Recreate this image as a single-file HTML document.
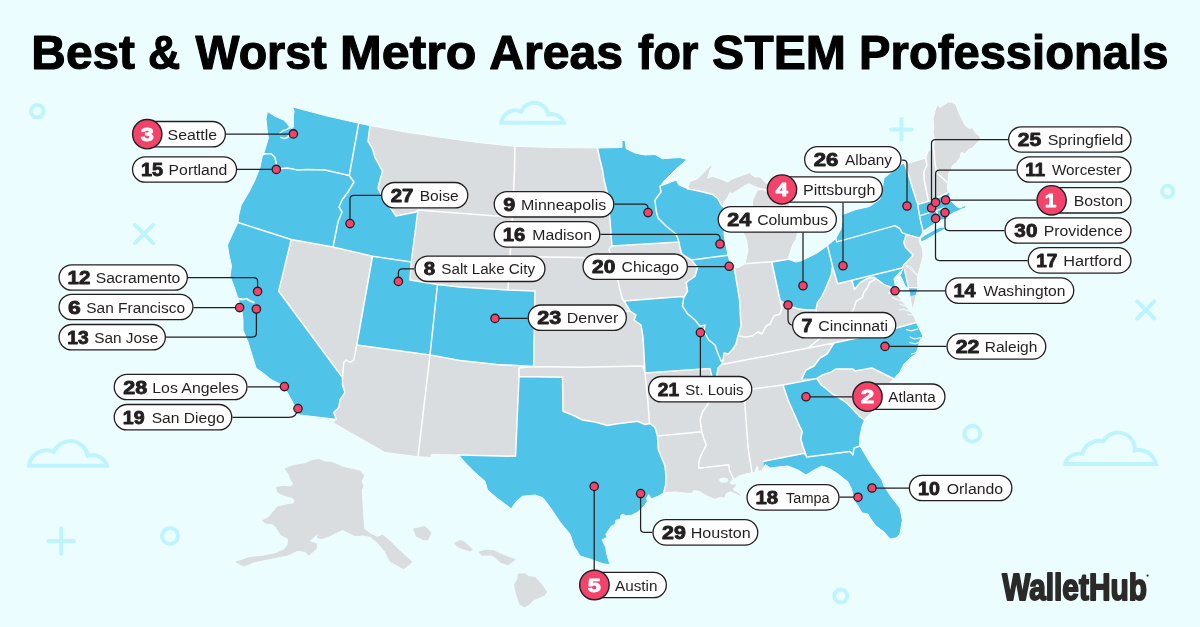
<!DOCTYPE html>
<html lang="en"><head><meta charset="utf-8"><title>Best &amp; Worst Metro Areas for STEM Professionals</title>
<style>
html,body{margin:0;padding:0;background:#ecfdff;}
body{width:1200px;height:627px;overflow:hidden;position:relative;font-family:"Liberation Sans", sans-serif;}
svg{position:absolute;left:0;top:0;display:block}
text{font-family:"Liberation Sans", sans-serif;}
.t{font-weight:700;fill:#000;}
.n{font-weight:700;fill:#231f20;stroke:#231f20;stroke-width:.9px;stroke-linejoin:round;paint-order:stroke;}
.nw{font-weight:700;fill:#fff;stroke:#fff;stroke-width:.9px;stroke-linejoin:round;}
.c{fill:#231f20;}
.pill{fill:#fff;stroke:#231f20;stroke-width:1.3px;}
.top{fill:#f4436a;stroke:#231f20;stroke-width:1.4px;}
.ld{fill:none;stroke:#231f20;stroke-width:1.25px;}
.dot{fill:#f4436a;stroke:#231f20;stroke-width:1.3px;}
.deco{fill:none;stroke:#bef5fd;stroke-width:4px;stroke-linecap:round;}
.bd{fill:none;stroke:#fff;stroke-width:1.5px;stroke-linejoin:round;stroke-linecap:round;}
</style></head><body>
<svg width="1200" height="627" viewBox="0 0 1200 627">
<rect width="1200" height="627" fill="#ecfdff"/>

<g>
<circle class="deco" cx="37.3" cy="111.3" r="6.3" stroke-width="4"/>
<circle class="deco" cx="1167.6" cy="191.3" r="5.6" stroke-width="3.6"/>
<circle class="deco" cx="972.3" cy="433.7" r="8" stroke-width="4.5"/>
<circle class="deco" cx="170" cy="536" r="8" stroke-width="4"/>
<circle class="deco" cx="840.7" cy="596" r="6.5" stroke-width="4"/>
<path class="deco" d="M891.1 129.4H911.6999999999999M901.4 119.10000000000001V139.70000000000002"/>
<path class="deco" d="M48.400000000000006 541H73.8M61.1 528.3V553.7"/>
<path class="deco" d="M134.9 224.9L153.1 243.1M153.1 224.9L134.9 243.1"/>
<path class="deco" d="M1137.2 301.29999999999995L1154.3999999999999 318.5M1154.3999999999999 301.29999999999995L1137.2 318.5"/>
<path class="deco" stroke-width="4" stroke-linejoin="miter" stroke-linecap="butt" d="M501.3 122.7A14.2 14.2 0 0 1 521.2 111.6A14.2 14.2 0 0 1 548.3 114.6A12.5 12.5 0 0 1 563.7 122.7Z"/>
<path class="deco" stroke-width="4.6" stroke-linejoin="miter" stroke-linecap="butt" d="M28.9 465.7A17.8 17.8 0 0 1 53.8 451.9A17.8 17.8 0 0 1 87.7 455.6A15.6 15.6 0 0 1 107.0 465.7Z"/>
<path class="deco" stroke-linejoin="miter" stroke-linecap="butt" d="M1065.5 464A14 11 0 0 1 1082.25 453.8A17.5 17.5 0 0 1 1103.25 441.2A16.8 16.8 0 0 1 1134.75 450.2A18 18 0 0 1 1155.9 464Z"/>
</g>
<g id="map">
<path d="M293 107 L325 115.5 L358.75 123.25 L370 125.5 L405 132 L440 137.2 L478 142.5 L515 146.3 L556 147.6 L597.5 148 L622 147.5 L622 140.5 L625 140.5 L626.25 148.75 L635 153 L645 155 L655 154.5 L662.5 158.75 L672.5 158 L680 157.5 L687 159.5 L675 170 L665 180 L660 186.25 L670 182.5 L676.25 180 L678.75 185 L687.5 188.75 L690 181.25 L697.5 178.75 L702.5 173.75 L706.25 170 L710.6 165.6 L713 165.6 L710 170 L708.75 175 L707.5 178 L712.5 176.25 L720 178.75 L727.5 181.9 L732.5 178.75 L737.5 176.9 L745 174.4 L750 172.5 L751.9 175 L755 176.9 L760 176.9 L763.75 180.6 L766.25 183 L770 186 L772 189 L765 189.5 L757.5 187.5 L752.5 185.6 L748.75 183.75 L743.75 186.25 L740 188.75 L736.25 191.25 L732.5 193.75 L730 192.5 L727.5 197.5 L725 201.25 L723 205 L726 215 L724.5 225 L724 233 L724.75 239.5 L727 250 L727.75 255.25 L730 262 L734.5 268 L739 267.25 L745 263.8 L748 250 L746.5 239.5 L743.5 233.5 L745 222 L750 212 L752.5 205 L752.5 200 L755 195 L757.5 190 L762.5 189.5 L766 191 L775 190 L785 195 L790 204 L787 212 L782 221 L789 217.5 L796.5 221 L799 229 L797.5 233.5 L796 239.5 L793 244 L790 253 L788.5 257.5 L788.5 259.5 L796 262 L802 260.5 L808 257.5 L817 253 L827.5 245.6 L835.75 238.5 L841 229 L842.5 220 L841.75 215.5 L844 214 L856 209.5 L869.5 206.5 L880 199 L882 190 L884 178 L893 171 L902 164 L904.4 163 L909.4 163 L925.6 158 L927.5 151.25 L933.5 148.5 L934.4 138.75 L933 132.5 L933.75 127.5 L933 118.75 L935 111.25 L936.9 104.4 L940 107.5 L943.75 105 L948.1 101.9 L951.5 102.3 L955.6 104.4 L960 115 L965 125 L969.4 128.75 L972.5 127.5 L976.25 133.75 L978.75 135 L981 139 L977.5 142.5 L972.5 147.5 L968 150 L965 153.75 L961.25 152.5 L960 157.5 L956.9 162.5 L952.5 165.6 L951.25 170 L948.75 173 L948.1 181.25 L947.5 188.75 L948.5 191.5 L950 195 L948.75 198.75 L952.5 202.5 L956.25 206.25 L960 208 L966.25 205 L965 208.3 L962.5 208.75 L957.5 211.25 L953.75 212.5 L950 215 L948 215 L947.5 218.75 L939.4 220.6 L932.5 225 L923.1 231.25 L921.25 235 L919.4 238 L920 243.75 L922.5 248.75 L923 256.25 L920 267.5 L918 275 L914 272.5 L909.5 268.5 L906 265.8 L909.4 266.3 L912.5 268.75 L917.5 276.25 L918 287.75 L916.25 294.4 L915 301.25 L913 308 L912.25 310 L911.25 303.75 L910 296.25 L908.5 288 L905.6 286.9 L903.75 283 L901.9 278.75 L900 275.6 L901.25 273 L902.5 269.4 L900 271.9 L896.25 275.6 L894 278.75 L895 284.4 L895.6 290.6 L898.75 296.25 L902.5 301.25 L906.25 306.25 L910 311.25 L913.75 315 L915 318.75 L916.25 322.5 L917 324 L920 330 L923 336 L920 340 L918 348 L916 354 L910 358 L904 364 L900 372 L893.75 378.75 L888 385 L881 393 L875 402 L871.25 413 L866.25 417.5 L864.4 420 L862.5 425 L861.25 430 L860 436.25 L859.4 442.5 L860 446 L866 456 L872 466 L880 477 L882 480 L884 486 L892 498 L900 508 L902.4 520 L900 534 L896 538 L890 539 L884 532 L876 526 L870 518 L868 514 L862 513 L858 506 L855 502 L851 488 L848 482 L838 474 L830 469 L822 466 L814 470 L806 475 L798 470 L788 466 L778 467 L770 468 L765.5 464.5 L763.7 467.5 L761.75 470.5 L758.75 472 L757.25 466 L755 472 L753.5 472.75 L747.5 473.5 L740 475.75 L733.25 479.5 L730 482.5 L732.5 484.4 L735.6 482.5 L736.25 486.25 L733 489.4 L736.25 491.25 L740 493.75 L743 497.5 L740 496.25 L735 493.75 L730 491.9 L726.25 493.75 L725 498 L720 497.5 L715 499.4 L710 497.5 L705 495 L700 491.9 L693.75 490.6 L691.25 493.75 L683.75 493 L675 491.9 L663.75 493 L657.5 496.5 L651.7 498.7 L649.6 496.2 L648.8 494.6 L647.6 496.5 L646.7 498.2 L647.4 501.5 L643.8 506.5 L637.4 512.3 L631.6 515.2 L625.9 515.9 L623 514.2 L620.9 515.2 L620.6 517.8 L619.4 519.5 L615.8 520.2 L615.1 524.5 L611.5 525.9 L607.9 531 L605.8 534.5 L607.2 537.4 L602.2 539.6 L603.6 543.2 L605.8 547.5 L606.5 553.2 L608.7 560.4 L610.1 564.5 L604 564 L598 562 L590 559 L580 556 L574 546 L570 534 L560 522 L552 510 L547 503 L542.5 497.5 L535 495 L522.5 496.25 L516.25 501.25 L511.25 508.75 L506.25 505 L496.25 497.5 L487.5 490 L485 481.25 L475 472.5 L465 462.5 L458.75 455 L431.25 454.5 L431.25 457.5 L418 456.75 L385 452.5 L332.5 422.5 L336.25 419.25 L300 415 L298 413 L292 401 L287 392 L283 385.5 L271 379.5 L263 373 L256 368 L252 355 L248 342 L243 330 L243 320 L242 312 L238 298.5 L234.5 288 L230 276 L231.5 266 L229 255 L227.5 245 L232 235 L238 222.5 L238.75 215 L241.25 205 L248.75 192.5 L255 180 L260 167.5 L262.5 155 L263.6 153.6 L265.5 147.8 L268.4 138.3 L267 128.7 L266 119 L267.4 111.5 L274.1 115.8 L283.7 120.1 L287.5 123.9 L289.6 127.2 L291.6 128.6 L293.6 127 L293.2 118 L294 111 L292.8 107.7 L293 107Z" fill="#d9dde0"/>
<path d="M285 468.75 L293.75 465.5 L305 463.75 L312.5 460.5 L318.75 459.5 L325 462 L332.5 462.5 L342.5 467 L352.5 469.5 L360 471.25 L363.75 475.5 L361.25 481.25 L363 486.25 L361.25 490 L362.5 512.5 L363.75 528.75 L370 533.75 L377.5 537.5 L382.5 535 L390 541.25 L400 551.25 L412 562 L403.75 568.75 L390 561.25 L385 551.25 L377.5 542.5 L370 536.25 L362.5 535 L355 535.5 L342.5 529.5 L330 535.5 L321.25 538.75 L317.5 537.5 L318.75 532.5 L308.75 541.25 L316.25 543.75 L316.25 548.75 L308.75 555 L305 551.25 L297.5 550.5 L287.5 555 L275 557.5 L260 560.5 L253.75 562 L243.75 566.25 L236.25 562 L242.5 560 L250 557.5 L262.5 556.25 L275 553.75 L283.75 550 L288 545 L288.75 538.75 L281.25 535 L276.25 527.5 L272.5 523.75 L265 523 L262.5 520.5 L268.75 517.5 L273.75 511.25 L277.5 507 L286.25 505 L293.75 503.75 L295 500.5 L292.5 497.5 L283.75 495 L278 492.5 L276.25 487.5 L283.75 486.25 L290.5 487 L293.75 483.75 L290.5 478.75 L288.75 473.75Z" fill="#d9dde0" stroke="#d9dde0" stroke-width="1" stroke-linejoin="round"/>
<path d="M413.8 529.3 L424.75 526.75 L430.75 532.75 L427.75 539.5 L424 539.5 L416.5 535.75Z" fill="#d9dde0" stroke="#d9dde0" stroke-width="1.4" stroke-linejoin="round"/>
<path d="M455.2 543.25 L460 541 L464.5 542.5 L471.7 549.25 L470.5 550.75 L463 548.5 L457.75 546.25Z" fill="#d9dde0" stroke="#d9dde0" stroke-width="1.4" stroke-linejoin="round"/>
<path d="M479.5 552.25 L485.5 550.45 L493 550.75 L499 553.75 L514.75 559.75 L508 564.5 L500.5 562 L496 557.5 L491.5 554.8 L481.75 554.8Z" fill="#d9dde0" stroke="#d9dde0" stroke-width="1.4" stroke-linejoin="round"/>
<path d="M518.5 574.3 L525.25 574.3 L528.25 576.7 L535 577.75 L541 584.5 L546.25 592 L544 595 L533.5 599.5 L529 604 L524.5 606.7 L520 604 L517 595 L514.75 584.5 L517.75 580Z" fill="#d9dde0" stroke="#d9dde0" stroke-width="1.4" stroke-linejoin="round"/>
<path d="M262.5 155 L263.6 153.6 L265.5 147.8 L268.4 138.3 L267 128.7 L266 119 L267.4 111.5 L274.1 115.8 L283.7 120.1 L287.5 123.9 L289.6 127.2 L291.6 128.6 L293.6 127 L293.2 118 L294 111 L292.8 107.7 L293 107 L325 115.5 L358.75 123.25 L349.25 175.5 L325 170 L307.5 169.5 L297.5 170 L287.5 168 L278.75 168.75 L276.25 163.75 L275 157.5 L271.25 153.75 L265 153.75 L262.5 155ZM238 222.5 L238.75 215 L241.25 205 L248.75 192.5 L255 180 L260 167.5 L262.5 155 L265 153.75 L271.25 153.75 L275 157.5 L276.25 163.75 L278.75 168.75 L287.5 168 L297.5 170 L307.5 169.5 L325 170 L349.25 175.5 L354 182 L348 192 L342 200 L339 207 L342 212 L338 222 L333 247 L291.25 239.5ZM238 222.5 L291.25 239.5 L278.75 291.25 L342.5 377.5 L342.5 385 L345 392.5 L340 400 L338.75 407.5 L333.75 412.5 L336.25 419.25 L300 415 L298 413 L292 401 L287 392 L283 385.5 L271 379.5 L263 373 L256 368 L252 355 L248 342 L243 330 L243 320 L242 312 L238 298.5 L234.5 288 L230 276 L231.5 266 L229 255 L227.5 245 L232 235 L238 222.5ZM358.75 123.25 L370 125.5 L368 141.25 L372.5 148.75 L375 157.5 L382.5 171.25 L380 180 L378 188 L382 196 L388 204 L392 210 L396 216 L406 214 L416 212 L418 210 L411.25 262 L372.5 256.25 L333 247 L338 222 L342 212 L339 207 L342 200 L348 192 L354 182 L349.25 175.5ZM372.5 256.25 L411.25 262 L410 280 L437.5 284.5 L430 355 L356.75 345ZM437.5 284.5 L460 287 L508 290 L535 291 L533.6 366.5 L497 364.5 L460 360.5 L430 355ZM519 376.5 L562.5 377.2 L563 411.25 L572.5 415 L582.5 420 L595 422 L607.5 425.5 L617.5 423.75 L627.5 422.5 L637.5 421.25 L645 424.5 L650 423.5 L655 427.5 L657.5 436 L658.25 449.5 L662 458.5 L665 466 L666 476 L665.6 485 L663.75 493 L657.5 496.5 L651.7 498.7 L649.6 496.2 L648.8 494.6 L647.6 496.5 L646.7 498.2 L647.4 501.5 L643.8 506.5 L637.4 512.3 L631.6 515.2 L625.9 515.9 L623 514.2 L620.9 515.2 L620.6 517.8 L619.4 519.5 L615.8 520.2 L615.1 524.5 L611.5 525.9 L607.9 531 L605.8 534.5 L607.2 537.4 L602.2 539.6 L603.6 543.2 L605.8 547.5 L606.5 553.2 L608.7 560.4 L610.1 564.5 L604 564 L598 562 L590 559 L580 556 L574 546 L570 534 L560 522 L552 510 L547 503 L542.5 497.5 L535 495 L522.5 496.25 L516.25 501.25 L511.25 508.75 L506.25 505 L496.25 497.5 L487.5 490 L485 481.25 L475 472.5 L465 462.5 L458.75 455 L515.5 456.25ZM597.5 148 L622 147.5 L622 140.5 L625 140.5 L626.25 148.75 L635 153 L645 155 L655 154.5 L662.5 158.75 L672.5 158 L680 157.5 L687 159.5 L675 170 L665 180 L660 186.25 L661 192 L655 200 L656 210 L658 218 L666 226 L676 234 L679 242 L679 242 L612 246 L611.5 240 L610 220 L607 192 L604 180 L602.5 170 L600 160 L597.5 148ZM660 186.25 L670 182.5 L676.25 180 L678.75 185 L687.5 188.75 L700 191.25 L712.5 194.5 L718 198.75 L720.6 203.75 L722.5 206.25 L726 215 L724.5 225 L724 233 L724.75 239.5 L727 250 L727.75 255.25 L691.25 260 L688 258 L682 254 L680 248 L679 242 L676 234 L666 226 L658 218 L656 210 L655 200 L661 192 L660 186.25ZM691.25 260 L727.75 255.25 L730 262 L734.5 268 L734.5 269.5 L739.6 300 L741 326 L738 336 L738 336 L736 344 L733 349 L728 354 L724 353 L723 360 L721.25 361.25 L717.5 352.5 L715 345 L708.75 340 L703.75 331.25 L705 325 L700 326.25 L695 320 L687.5 313.75 L682.5 306.25 L683.75 297.5 L687.5 291.25 L686.25 282.5 L695 276.25 L697.5 267.5 L691.25 260ZM624 301 L682 296.6 L683.75 297.5 L683.75 297.5 L682.5 306.25 L687.5 313.75 L695 320 L700 326.25 L705 325 L703.75 331.25 L708.75 340 L715 345 L717.5 352.5 L721.25 361.25 L723 360 L722 364 L718 368 L718 368 L717 377 L712 377 L710 368.6 L645 373 L643 337 L641 325 L634 320 L636 315 L630 311 L624 301ZM772 263 L788.5 259.5 L796 262 L802 260.5 L808 257.5 L817 253 L827.5 245.6 L832.5 266 L831.25 275 L825 290 L821.25 297.5 L817.5 302.5 L816 310 L807.5 310 L797.5 308.75 L786.25 305 L780 300ZM827.5 245.6 L835.75 238.5 L836.9 241.9 L895 225.6 L900 228.75 L901.9 232.5 L906.25 234.4 L905 238.75 L903.75 242.5 L905.6 247.5 L913.1 255 L907.5 261.25 L903.75 265 L901.9 268.1 L837.5 283.75 L832.5 266ZM835.75 238.5 L841 229 L842.5 220 L841.75 215.5 L844 214 L856 209.5 L869.5 206.5 L880 199 L882 190 L884 178 L893 171 L902 164 L904.4 163 L909.4 177.5 L913 190 L917.5 203.75 L919.4 215 L921.25 223.75 L923.1 231.25 L921.25 235 L919.4 238 L906.25 234.4 L901.9 232.5 L900 228.75 L895 225.6 L836.9 241.9ZM921 238.5 L925 235.5 L931 232.2 L938 228.6 L943 227.6 L945 228.6 L939 231.8 L931 236.2 L925 239.8 L921.5 241.2ZM918.1 204.4 L932.5 200 L946.25 193.75 L948.5 191.5 L950 195 L948.75 198.75 L952.5 202.5 L956.25 206.25 L960 208 L966.25 205 L965 208.3 L962.5 208.75 L957.5 211.25 L953.75 212.5 L950 215 L948 215 L943.75 208 L936.25 210.6 L920 215.6ZM920 215.6 L936.25 210.6 L939.4 220.6 L932.5 225 L923.1 231.25 L921.25 223.75ZM936.25 210.6 L943.75 208 L948 215 L947.5 218.75 L939.4 220.6ZM851.9 280.3 L901.9 268.1 L902.5 269.4 L900 271.9 L896.25 275.6 L894 278.75 L895 284.4 L895.6 290.6 L893 288 L890 286.9 L883.75 284.4 L880 281.5 L876.25 278.75 L873.75 277.25 L870 277.5 L865 279.75 L860 282.75 L854.4 289.4 L851.9 280.3ZM901.25 273.75 L903 268.75 L904.6 269.6 L908.5 287.4 L905.6 286.9 L903.75 283 L901.9 278.75 L900 275.6ZM908.6 288 L918 287.75 L916.25 294.4 L912.3 295.8 L910 296.25ZM801.9 378.5 L806 370 L814 366 L820 358 L827 354 L832 346 L834 343 L875 334 L916.25 322.5 L917 324 L920 330 L923 336 L920 340 L918 348 L916 354 L910 358 L904 364 L900 372 L893.75 378.75 L872 368 L855 371 L853 369 L836 369 L831.25 371.9 L822.5 375 L816.9 378.5 L801.9 378.5ZM783 385 L816.9 378.5 L821.25 385 L826.25 388.75 L831.25 393 L837.5 396.9 L842.5 400 L847.5 403.75 L852.5 408.75 L856.25 413 L860 416.9 L864.4 420 L862.5 425 L861.25 430 L860 436.25 L859.4 442.5 L860 446 L854 448 L853 455 L850 451.6 L806.75 457 L803 446.5 L800.75 439 L802.25 431.5 L800 427 L794 413.5 L788 400 L783 385ZM763.7 461.2 L804.5 453.25 L806.75 457 L850 451.6 L853 455 L854 448 L860 446 L866 456 L872 466 L880 477 L882 480 L884 486 L892 498 L900 508 L902.4 520 L900 534 L896 538 L890 539 L884 532 L876 526 L870 518 L868 514 L862 513 L858 506 L855 502 L851 488 L848 482 L838 474 L830 469 L822 466 L814 470 L806 475 L798 470 L788 466 L778 467 L770 468 L765.5 464.5 L763.7 467.5 L763.7 461.2Z" fill="#50c3e8"/>
<path class="bd" d="M358.75 123.25 L349.25 175.5M262.5 155 L265 153.75 L271.25 153.75 L275 157.5 L276.25 163.75 L278.75 168.75 L287.5 168 L297.5 170 L307.5 169.5 L325 170 L349.25 175.5M349.25 175.5 L354 182 L348 192 L342 200 L339 207 L342 212 L338 222 L333 247M238 222.5 L291.25 239.5 L333 247 L372.5 256.25 L411.25 262M370 125.5 L368 141.25 L372.5 148.75 L375 157.5 L382.5 171.25 L380 180 L378 188 L382 196 L388 204 L392 210 L396 216 L406 214 L416 212 L418 210M418 210 L411.25 262M291.25 239.5 L278.75 291.25 L342.5 377.5M342.5 377.5 L342.5 385 L345 392.5 L340 400 L338.75 407.5 L333.75 412.5 L336.25 419.25M356.75 345 L353.75 360 L350 362.5 L346.25 360 L343.75 362.5 L342.5 377.5M372.5 256.25 L356.75 345M356.75 345 L430 355M411.25 262 L410 280 L437.5 284.5M437.5 284.5 L430 355M437.5 284.5 L460 287 L508 290 L535 291M535 291 L533.6 366.5M430 355 L460 360.5 L497 364.5 L533.6 366.5M430 355 L418 456.75M418 210 L496 216 L512.5 217.5M515 146.3 L514.5 170 L512.5 217.5 L510 256.5 L508 290M510 256.5 L582 257.5 L592 260 L600 262.5 L609 262M534.6 310 L580 313.5 L630 311M519 368 L533.6 366.5 L580 367.3 L643 366M519 368 L519 376.5 L515.5 456.25M458.75 455 L515.5 456.25M519 376.5 L562.5 377.2 L563 411.25M563 411.25 L572.5 415 L582.5 420 L595 422 L607.5 425.5 L617.5 423.75 L627.5 422.5 L637.5 421.25 L645 424.5 L650 423.5 L655 427.5M655 427.5 L657.5 436 L658.25 449.5 L662 458.5 L665 466 L666 476 L665.6 485 L663.75 493M643 366 L645 373 L648 403 L649.5 423.5M657.5 436 L701.75 431.8M645 373 L710 368.6M710 368.6 L712 377 L717 377 L718 368M718 368 L716 380 L712 393 L707.75 404.5 L702.5 412 L700.25 419.5 L701 427 L701.75 431.8 L704 439 L706.25 445 L703.25 451 L700.25 457 L698.75 463 L698.75 468.25M698.75 468.25 L728.75 464.8 L729.5 470.5 L732.5 476.5 L733.25 479.5M744.3 390 L744.8 403 L748.25 449.5 L752 472.5M712 394 L752 389 L783 385 L816.9 378.5M783 385 L788 400 L794 413.5 L800 427 L802.25 431.5 L800.75 439 L803 446.5 L806.75 457M763.7 461.2 L804.5 453.25 L806.75 457M806.75 457 L850 451.6 L853 455 L854 448 L860 446M816.9 378.5 L821.25 385 L826.25 388.75 L831.25 393 L837.5 396.9 L842.5 400 L847.5 403.75 L852.5 408.75 L856.25 413 L860 416.9 L864.4 420M816.9 378.5 L822.5 375 L831.25 371.9 L836 369 L853 369 L855 371 L872 368 L893.75 378.75M801.9 378.5 L806 370 L814 366 L820 358 L827 354 L832 346 L834 343M834 343 L875 334 L916.25 322.5M718 368 L722 364.5 L740 361 L775 354.5 L808 348 L834 343M723 360 L724 353 L728 354 L733 349 L736 344 L738 336M738 336 L746 337 L752 336 L758 332 L762 334 L766 326 L770 324 L774 316 L780 314 L782 308 L780 300M780 300 L786.25 305 L797.5 308.75 L807.5 310 L816 310 L817.5 302.5 L821.25 297.5 L825 290 L831.25 275 L832.5 266M738 336 L741 326 L739.6 300 L734.5 269.5 L734.5 268M772 263 L780 300M745 263.8 L772 261.7 L788.5 259.3M827.5 245.6 L832.5 266 L837.5 283.75M837.5 283.75 L851.9 280.3 L901.9 268.1M835.75 238.5 L836.9 241.9 L895 225.6M895 225.6 L900 228.75 L901.9 232.5 L906.25 234.4 L905 238.75 L903.75 242.5 L905.6 247.5 L913.1 255 L907.5 261.25 L903.75 265 L901.9 268.1M906.25 234.4 L919.4 238M904.4 163 L909.4 177.5 L913 190 L917.5 203.75 L919.4 215 L921.25 223.75 L923.1 231.25M918.1 204.4 L932.5 200 L946.25 193.75 L948.5 191.5M920 215.6 L936.25 210.6 L943.75 208 L948 215M936.25 210.6 L939.4 220.6M927.5 151.25 L925.6 157.5 L926.9 165 L923.75 172.5 L924.4 181.25 L926.25 190 L928 198.75 L928.75 201M933.75 149 L935 163.75 L936.9 173 L948 183M876.25 278.75 L869.4 282.5 L867.5 287.5 L863.75 292.5 L862.5 297.5 L856.25 301.25 L853.75 308.75 L852.5 311.25 L846 318 L838 326 L828 333 L818 340 L808 348M816 310 L818 318 L823 325 L820 334 L818 340M851.9 280.3 L854.4 289.4 L860 282.75 L865 279.75 L870 277.5 L873.75 277.25 L876.25 278.75 L880 281.5 L883.75 284.4 L890 286.9 L893 288 L895.6 290.6M904.4 269.4 L908.5 287.6 L918 287.75M660 186.25 L661 192 L655 200 L656 210 L658 218 L666 226 L676 234 L679 242 L680 248 L682 254 L688 258 L691.25 260M691.25 260 L697.5 267.5 L695 276.25 L686.25 282.5 L687.5 291.25 L683.75 297.5 L682.5 306.25 L687.5 313.75 L695 320 L700 326.25 L705 325 L703.75 331.25 L708.75 340 L715 345 L717.5 352.5 L721.25 361.25 L723 360 L722 364 L718 368M612 246 L679 242M597.5 148 L600 160 L602.5 170 L604 180 L607 192 L610 220 L611.5 240 L612 246M612 246 L609 249 L610 253 L613 263 L618 281 L622 298 L624 301M624 301 L682 296.6 L683.75 297.5M624 301 L630 311 L636 315 L634 320 L641 325 L643 337 L645 373M691.25 260 L727.75 255.25M687.5 188.75 L700 191.25 L712.5 194.5 L718 198.75 L720.6 203.75 L722.5 206.25"/>
<path d="M293 107 L325 115.5 L358.75 123.25 L370 125.5 L405 132 L440 137.2 L478 142.5 L515 146.3 L556 147.6 L597.5 148 L622 147.5 L622 140.5 L625 140.5 L626.25 148.75 L635 153 L645 155 L655 154.5 L662.5 158.75 L672.5 158 L680 157.5 L687 159.5 L675 170 L665 180 L660 186.25 L670 182.5 L676.25 180 L678.75 185 L687.5 188.75 L690 181.25 L697.5 178.75 L702.5 173.75 L706.25 170 L710.6 165.6 L713 165.6 L710 170 L708.75 175 L707.5 178 L712.5 176.25 L720 178.75 L727.5 181.9 L732.5 178.75 L737.5 176.9 L745 174.4 L750 172.5 L751.9 175 L755 176.9 L760 176.9 L763.75 180.6 L766.25 183 L770 186 L772 189 L765 189.5 L757.5 187.5 L752.5 185.6 L748.75 183.75 L743.75 186.25 L740 188.75 L736.25 191.25 L732.5 193.75 L730 192.5 L727.5 197.5 L725 201.25 L723 205 L726 215 L724.5 225 L724 233 L724.75 239.5 L727 250 L727.75 255.25 L730 262 L734.5 268 L739 267.25 L745 263.8 L748 250 L746.5 239.5 L743.5 233.5 L745 222 L750 212 L752.5 205 L752.5 200 L755 195 L757.5 190 L762.5 189.5 L766 191 L775 190 L785 195 L790 204 L787 212 L782 221 L789 217.5 L796.5 221 L799 229 L797.5 233.5 L796 239.5 L793 244 L790 253 L788.5 257.5 L788.5 259.5 L796 262 L802 260.5 L808 257.5 L817 253 L827.5 245.6 L835.75 238.5 L841 229 L842.5 220 L841.75 215.5 L844 214 L856 209.5 L869.5 206.5 L880 199 L882 190 L884 178 L893 171 L902 164 L904.4 163 L909.4 163 L925.6 158 L927.5 151.25 L933.5 148.5 L934.4 138.75 L933 132.5 L933.75 127.5 L933 118.75 L935 111.25 L936.9 104.4 L940 107.5 L943.75 105 L948.1 101.9 L951.5 102.3 L955.6 104.4 L960 115 L965 125 L969.4 128.75 L972.5 127.5 L976.25 133.75 L978.75 135 L981 139 L977.5 142.5 L972.5 147.5 L968 150 L965 153.75 L961.25 152.5 L960 157.5 L956.9 162.5 L952.5 165.6 L951.25 170 L948.75 173 L948.1 181.25 L947.5 188.75 L948.5 191.5 L950 195 L948.75 198.75 L952.5 202.5 L956.25 206.25 L960 208 L966.25 205 L965 208.3 L962.5 208.75 L957.5 211.25 L953.75 212.5 L950 215 L948 215 L947.5 218.75 L939.4 220.6 L932.5 225 L923.1 231.25 L921.25 235 L919.4 238 L920 243.75 L922.5 248.75 L923 256.25 L920 267.5 L918 275 L914 272.5 L909.5 268.5 L906 265.8 L909.4 266.3 L912.5 268.75 L917.5 276.25 L918 287.75 L916.25 294.4 L915 301.25 L913 308 L912.25 310 L911.25 303.75 L910 296.25 L908.5 288 L905.6 286.9 L903.75 283 L901.9 278.75 L900 275.6 L901.25 273 L902.5 269.4 L900 271.9 L896.25 275.6 L894 278.75 L895 284.4 L895.6 290.6 L898.75 296.25 L902.5 301.25 L906.25 306.25 L910 311.25 L913.75 315 L915 318.75 L916.25 322.5 L917 324 L920 330 L923 336 L920 340 L918 348 L916 354 L910 358 L904 364 L900 372 L893.75 378.75 L888 385 L881 393 L875 402 L871.25 413 L866.25 417.5 L864.4 420 L862.5 425 L861.25 430 L860 436.25 L859.4 442.5 L860 446 L866 456 L872 466 L880 477 L882 480 L884 486 L892 498 L900 508 L902.4 520 L900 534 L896 538 L890 539 L884 532 L876 526 L870 518 L868 514 L862 513 L858 506 L855 502 L851 488 L848 482 L838 474 L830 469 L822 466 L814 470 L806 475 L798 470 L788 466 L778 467 L770 468 L765.5 464.5 L763.7 467.5 L761.75 470.5 L758.75 472 L757.25 466 L755 472 L753.5 472.75 L747.5 473.5 L740 475.75 L733.25 479.5 L730 482.5 L732.5 484.4 L735.6 482.5 L736.25 486.25 L733 489.4 L736.25 491.25 L740 493.75 L743 497.5 L740 496.25 L735 493.75 L730 491.9 L726.25 493.75 L725 498 L720 497.5 L715 499.4 L710 497.5 L705 495 L700 491.9 L693.75 490.6 L691.25 493.75 L683.75 493 L675 491.9 L663.75 493 L657.5 496.5 L651.7 498.7 L649.6 496.2 L648.8 494.6 L647.6 496.5 L646.7 498.2 L647.4 501.5 L643.8 506.5 L637.4 512.3 L631.6 515.2 L625.9 515.9 L623 514.2 L620.9 515.2 L620.6 517.8 L619.4 519.5 L615.8 520.2 L615.1 524.5 L611.5 525.9 L607.9 531 L605.8 534.5 L607.2 537.4 L602.2 539.6 L603.6 543.2 L605.8 547.5 L606.5 553.2 L608.7 560.4 L610.1 564.5 L604 564 L598 562 L590 559 L580 556 L574 546 L570 534 L560 522 L552 510 L547 503 L542.5 497.5 L535 495 L522.5 496.25 L516.25 501.25 L511.25 508.75 L506.25 505 L496.25 497.5 L487.5 490 L485 481.25 L475 472.5 L465 462.5 L458.75 455 L431.25 454.5 L431.25 457.5 L418 456.75 L385 452.5 L332.5 422.5 L336.25 419.25 L300 415 L298 413 L292 401 L287 392 L283 385.5 L271 379.5 L263 373 L256 368 L252 355 L248 342 L243 330 L243 320 L242 312 L238 298.5 L234.5 288 L230 276 L231.5 266 L229 255 L227.5 245 L232 235 L238 222.5 L238.75 215 L241.25 205 L248.75 192.5 L255 180 L260 167.5 L262.5 155 L263.6 153.6 L265.5 147.8 L268.4 138.3 L267 128.7 L266 119 L267.4 111.5 L274.1 115.8 L283.7 120.1 L287.5 123.9 L289.6 127.2 L291.6 128.6 L293.6 127 L293.2 118 L294 111 L292.8 107.7 L293 107Z" fill="none" stroke="#f6feff" stroke-width="1" stroke-linejoin="round"/>
<path d="M290 127.5L286.5 129.6L283.5 130.4L280 133.2M280.6 137.4L284.5 138.6L288 137.2L288.6 134.5" fill="none" stroke="#ecfdff" stroke-width="1.5" stroke-linecap="round" stroke-linejoin="round"/>
<path d="M238 298.6L242.5 299.6L246.5 298.6L250 300.8L253.6 302.4" fill="none" stroke="#ecfdff" stroke-width="2" stroke-linecap="round" stroke-linejoin="round"/>
<path d="M917.6 329.2L911 330.8L906.5 329.6M920.6 337.6L914.5 339L910 337M921 341.5L915.5 343.8L909.5 342.5M917 352.5L911.5 354M895.6 290.6L890.5 293.6L888.6 292.6M902.5 301.25L895.5 299L892.6 297.6M906.25 306.25L899.5 304M910 311.25L903 309L899 310.2M913.75 315L908 314.6" fill="none" stroke="#ecfdff" stroke-width="1.2" stroke-linecap="round" stroke-linejoin="round"/>
<ellipse cx="723.8" cy="480" rx="4.5" ry="2.6" fill="#ecfdff"/>
</g>
<g id="leaders">
<path class="ld" d="M226 134H293.4M237 169.4H276.3M381 195.4H354Q350 195.4 350 199.4V223.6M188 277.5H253.6Q257.6 277.5 257.6 281.5V291.4M193.6 307.5H239.6M166 337H252.4Q256.4 337 256.4 333V309M247.6 386.8H284.4M232.4 417.4H289Q296.5 417.4 298 408.6M414.4 268.8H402.4Q398.4 268.8 398.4 272.8V281.4M614.4 204.2H644Q648 204.2 648 208.2V212.6M600.4 234.4H716Q720 234.4 720 238.4V244M688 266.6H729M527.6 318.4H495M700.4 332.6V376M788 305V319Q788 325 793 325.2M901.6 160H903Q907 160 907 164V206M843 202.4V265.75M803 232.4V285.75M1008 139.6H935.5Q931.5 139.6 931.5 143.6V208M1016.4 170H939.6Q935.6 170 935.6 174V202.4M1036 200.2H945.6M1004.4 230.6H949Q945 230.6 945 226.6V212.6M1027.6 260.6H939.5Q935.5 260.6 935.5 256.6V218.4M945 290.8H895M946.4 346.4H885M852 396.8H806M909 488H872M839.6 497.2H858M640.6 493.6V528.4Q640.6 532.4 644.6 532.4H652.4M594.2 486.4V570"/>
</g>
<g id="labels">
<rect class="pill" x="132.55" y="156.8" width="104" height="25.4" rx="12.7"/>
<text class="n" x="141" y="176.1" font-size="19" textLength="22.1" lengthAdjust="spacingAndGlyphs">15</text>
<text class="c" x="168.6" y="175.1" font-size="15.2" textLength="58.81" lengthAdjust="spacingAndGlyphs">Portland</text>
<rect class="pill" x="381.65" y="182.5" width="86.1" height="25.4" rx="12.7"/>
<text class="n" x="390.74" y="201.8" font-size="19" textLength="22.7" lengthAdjust="spacingAndGlyphs">27</text>
<text class="c" x="419.72" y="200.8" font-size="15.2" textLength="38.97" lengthAdjust="spacingAndGlyphs">Boise</text>
<rect class="pill" x="59.05" y="264.8" width="128.3" height="25.4" rx="12.7"/>
<text class="n" x="67.56" y="284.1" font-size="19" textLength="22.81" lengthAdjust="spacingAndGlyphs">12</text>
<text class="c" x="95.69" y="283.1" font-size="15.2" textLength="84.57" lengthAdjust="spacingAndGlyphs">Sacramento</text>
<rect class="pill" x="59.05" y="294.3" width="133.9" height="25.4" rx="12.7"/>
<text class="n" x="68.01" y="313.6" font-size="19" textLength="12.77" lengthAdjust="spacingAndGlyphs">6</text>
<text class="c" x="86.3" y="312.6" font-size="15.2" textLength="98.75" lengthAdjust="spacingAndGlyphs">San Francisco</text>
<rect class="pill" x="59.05" y="324.5" width="106.3" height="25.4" rx="12.7"/>
<text class="n" x="67.24" y="343.8" font-size="19" textLength="21.41" lengthAdjust="spacingAndGlyphs">13</text>
<text class="c" x="94.3" y="342.8" font-size="15.2" textLength="63.98" lengthAdjust="spacingAndGlyphs">San Jose</text>
<rect class="pill" x="114.25" y="374.3" width="132.7" height="25.4" rx="12.7"/>
<text class="n" x="123.31" y="393.6" font-size="19" textLength="23.91" lengthAdjust="spacingAndGlyphs">28</text>
<text class="c" x="152.3" y="392.6" font-size="15.2" textLength="86.27" lengthAdjust="spacingAndGlyphs">Los Angeles</text>
<rect class="pill" x="114.25" y="404.5" width="117.5" height="25.4" rx="12.7"/>
<text class="n" x="122.81" y="423.8" font-size="19" textLength="21.87" lengthAdjust="spacingAndGlyphs">19</text>
<text class="c" x="151.69" y="422.8" font-size="15.2" textLength="72.97" lengthAdjust="spacingAndGlyphs">San Diego</text>
<rect class="pill" x="415.05" y="256.1" width="129.9" height="25.4" rx="12.7"/>
<text class="n" x="423.8" y="275.4" font-size="19" textLength="11.38" lengthAdjust="spacingAndGlyphs">8</text>
<text class="c" x="441.31" y="274.4" font-size="15.2" textLength="93.72" lengthAdjust="spacingAndGlyphs">Salt Lake City</text>
<rect class="pill" x="494.25" y="191.6" width="119.5" height="25.4" rx="12.7"/>
<text class="n" x="503.3" y="210.9" font-size="19" textLength="12.05" lengthAdjust="spacingAndGlyphs">9</text>
<text class="c" x="521.09" y="209.9" font-size="15.2" textLength="85.09" lengthAdjust="spacingAndGlyphs">Minneapolis</text>
<rect class="pill" x="494.25" y="221.7" width="105.5" height="25.4" rx="12.7"/>
<text class="n" x="502.78" y="241" font-size="19" textLength="22.5" lengthAdjust="spacingAndGlyphs">16</text>
<text class="c" x="532.3" y="240" font-size="15.2" textLength="59.72" lengthAdjust="spacingAndGlyphs">Madison</text>
<rect class="pill" x="583.05" y="254" width="104.3" height="25.4" rx="12.7"/>
<text class="n" x="592.12" y="273.3" font-size="19" textLength="23.28" lengthAdjust="spacingAndGlyphs">20</text>
<text class="c" x="621.6" y="272.3" font-size="15.2" textLength="57.45" lengthAdjust="spacingAndGlyphs">Chicago</text>
<rect class="pill" x="528.25" y="305" width="98.1" height="25.4" rx="12.7"/>
<text class="n" x="537.3" y="324.3" font-size="19" textLength="24.03" lengthAdjust="spacingAndGlyphs">23</text>
<text class="c" x="566.69" y="323.3" font-size="15.2" textLength="51.58" lengthAdjust="spacingAndGlyphs">Denver</text>
<rect class="pill" x="648.65" y="376.5" width="103.1" height="25.4" rx="12.7"/>
<text class="n" x="657.79" y="395.8" font-size="19" textLength="21.3" lengthAdjust="spacingAndGlyphs">21</text>
<text class="c" x="685.32" y="394.8" font-size="15.2" textLength="58.22" lengthAdjust="spacingAndGlyphs">St. Louis</text>
<rect class="pill" x="792.65" y="312.5" width="103.1" height="25.4" rx="12.7"/>
<text class="n" x="801.62" y="331.8" font-size="19" textLength="10.78" lengthAdjust="spacingAndGlyphs">7</text>
<text class="c" x="818.19" y="330.8" font-size="15.2" textLength="69.88" lengthAdjust="spacingAndGlyphs">Cincinnati</text>
<rect class="pill" x="804.65" y="146.7" width="96.3" height="25.4" rx="12.7"/>
<text class="n" x="813.68" y="166" font-size="19" textLength="24.67" lengthAdjust="spacingAndGlyphs">26</text>
<text class="c" x="844.97" y="165" font-size="15.2" textLength="47.06" lengthAdjust="spacingAndGlyphs">Albany</text>
<rect class="pill" x="718.25" y="206.7" width="118.1" height="25.4" rx="12.7"/>
<text class="n" x="727.3" y="226" font-size="19" textLength="23.96" lengthAdjust="spacingAndGlyphs">24</text>
<text class="c" x="757.2" y="225" font-size="15.2" textLength="70.97" lengthAdjust="spacingAndGlyphs">Columbus</text>
<rect class="pill" x="1008.65" y="126.8" width="122.3" height="25.4" rx="12.7"/>
<text class="n" x="1017.72" y="146.1" font-size="19" textLength="23.42" lengthAdjust="spacingAndGlyphs">25</text>
<text class="c" x="1047.67" y="145.1" font-size="15.2" textLength="75.76" lengthAdjust="spacingAndGlyphs">Springfield</text>
<rect class="pill" x="1017.05" y="156.8" width="113.9" height="25.4" rx="12.7"/>
<text class="n" x="1025.27" y="176.1" font-size="19" textLength="19.8" lengthAdjust="spacingAndGlyphs">11</text>
<text class="c" x="1051.93" y="175.1" font-size="15.2" textLength="69.32" lengthAdjust="spacingAndGlyphs">Worcester</text>
<rect class="pill" x="1005.05" y="217.8" width="125.9" height="25.4" rx="12.7"/>
<text class="n" x="1014.38" y="237.1" font-size="19" textLength="23.02" lengthAdjust="spacingAndGlyphs">30</text>
<text class="c" x="1043.7" y="236.1" font-size="15.2" textLength="79" lengthAdjust="spacingAndGlyphs">Providence</text>
<rect class="pill" x="1028.25" y="247.7" width="102.7" height="25.4" rx="12.7"/>
<text class="n" x="1036.25" y="267" font-size="19" textLength="21.13" lengthAdjust="spacingAndGlyphs">17</text>
<text class="c" x="1063.16" y="266" font-size="15.2" textLength="58.89" lengthAdjust="spacingAndGlyphs">Hartford</text>
<rect class="pill" x="945.65" y="277.9" width="128.1" height="25.4" rx="12.7"/>
<text class="n" x="953.6" y="297.2" font-size="19" textLength="22.06" lengthAdjust="spacingAndGlyphs">14</text>
<text class="c" x="983.53" y="296.2" font-size="15.2" textLength="81.88" lengthAdjust="spacingAndGlyphs">Washington</text>
<rect class="pill" x="947.05" y="333.7" width="98.7" height="25.4" rx="12.7"/>
<text class="n" x="955.71" y="353" font-size="19" textLength="23.69" lengthAdjust="spacingAndGlyphs">22</text>
<text class="c" x="984.72" y="352" font-size="15.2" textLength="52.68" lengthAdjust="spacingAndGlyphs">Raleigh</text>
<rect class="pill" x="909.4" y="475.3" width="102.45" height="25.4" rx="12.7"/>
<text class="n" x="917.96" y="494.6" font-size="19" textLength="21.9" lengthAdjust="spacingAndGlyphs">10</text>
<text class="c" x="946.75" y="493.6" font-size="15.2" textLength="56.42" lengthAdjust="spacingAndGlyphs">Orlando</text>
<rect class="pill" x="747.05" y="484.7" width="91.9" height="25.4" rx="12.7"/>
<text class="n" x="755.57" y="504" font-size="19" textLength="22.6" lengthAdjust="spacingAndGlyphs">18</text>
<text class="c" x="786.07" y="503" font-size="15.2" textLength="43.53" lengthAdjust="spacingAndGlyphs">Tampa</text>
<rect class="pill" x="653.05" y="519.7" width="104.7" height="25.4" rx="12.7"/>
<text class="n" x="662.11" y="539" font-size="19" textLength="23.84" lengthAdjust="spacingAndGlyphs">29</text>
<text class="c" x="690.68" y="538" font-size="15.2" textLength="59.97" lengthAdjust="spacingAndGlyphs">Houston</text>
<rect class="pill" x="139.25" y="121.5" width="86.1" height="25.4" rx="12.7"/>
<circle class="top" cx="147.25" cy="134.2" r="14.65"/>
<text class="nw" x="140.86" y="140.9" font-size="19" textLength="13.09" lengthAdjust="spacingAndGlyphs">3</text>
<text class="c" x="167.58" y="139.8" font-size="15.2" textLength="49.43" lengthAdjust="spacingAndGlyphs">Seattle</text>
<rect class="pill" x="774" y="176.8" width="108.35" height="25.4" rx="12.7"/>
<circle class="top" cx="782" cy="189.5" r="14.65"/>
<text class="nw" x="775.82" y="196.2" font-size="19" textLength="12.15" lengthAdjust="spacingAndGlyphs">4</text>
<text class="c" x="803.08" y="195.1" font-size="15.2" textLength="72.36" lengthAdjust="spacingAndGlyphs">Pittsburgh</text>
<rect class="pill" x="1043.6" y="187.6" width="87.35" height="25.4" rx="12.7"/>
<circle class="top" cx="1051.6" cy="200.3" r="14.65"/>
<text class="nw" x="1044.84" y="207" font-size="19" textLength="11.59" lengthAdjust="spacingAndGlyphs">1</text>
<text class="c" x="1073.7" y="205.9" font-size="15.2" textLength="49.33" lengthAdjust="spacingAndGlyphs">Boston</text>
<rect class="pill" x="859.5" y="384" width="85.45" height="25.4" rx="12.7"/>
<circle class="top" cx="867.5" cy="396.7" r="14.65"/>
<text class="nw" x="860.81" y="403.4" font-size="19" textLength="13.51" lengthAdjust="spacingAndGlyphs">2</text>
<text class="c" x="888.37" y="402.3" font-size="15.2" textLength="47.23" lengthAdjust="spacingAndGlyphs">Atlanta</text>
<rect class="pill" x="586.4" y="572.3" width="79.95" height="25.4" rx="12.7"/>
<circle class="top" cx="594.4" cy="585" r="14.75"/>
<text class="nw" x="587.83" y="591.7" font-size="19" textLength="13.08" lengthAdjust="spacingAndGlyphs">5</text>
<text class="c" x="614.97" y="590.6" font-size="15.2" textLength="42.42" lengthAdjust="spacingAndGlyphs">Austin</text>
</g>
<g id="dots">
<circle class="dot" cx="293.4" cy="133.9" r="4.15"/>
<circle class="dot" cx="276.3" cy="169.4" r="4.15"/>
<circle class="dot" cx="350" cy="223.6" r="4.15"/>
<circle class="dot" cx="257.6" cy="291.4" r="4.15"/>
<circle class="dot" cx="239.6" cy="307.6" r="4.15"/>
<circle class="dot" cx="256.4" cy="309" r="4.15"/>
<circle class="dot" cx="284.4" cy="386.6" r="4.15"/>
<circle class="dot" cx="298" cy="408.6" r="4.15"/>
<circle class="dot" cx="398.4" cy="281.4" r="4.15"/>
<circle class="dot" cx="648" cy="212.6" r="4.15"/>
<circle class="dot" cx="720" cy="244" r="4.15"/>
<circle class="dot" cx="729.2" cy="266.3" r="4.15"/>
<circle class="dot" cx="495" cy="318.4" r="4.15"/>
<circle class="dot" cx="700.4" cy="332.6" r="4.15"/>
<circle class="dot" cx="788" cy="305" r="4.15"/>
<circle class="dot" cx="907" cy="206" r="4.15"/>
<circle class="dot" cx="843" cy="265.75" r="4.15"/>
<circle class="dot" cx="803" cy="285.75" r="4.15"/>
<circle class="dot" cx="931.6" cy="208" r="4.15"/>
<circle class="dot" cx="935.6" cy="202.4" r="4.15"/>
<circle class="dot" cx="945.6" cy="200" r="4.15"/>
<circle class="dot" cx="945" cy="212.6" r="4.15"/>
<circle class="dot" cx="935.6" cy="218.4" r="4.15"/>
<circle class="dot" cx="895" cy="290.8" r="4.15"/>
<circle class="dot" cx="885" cy="346.4" r="4.15"/>
<circle class="dot" cx="806" cy="396.8" r="4.15"/>
<circle class="dot" cx="872" cy="488" r="4.15"/>
<circle class="dot" cx="858" cy="497.2" r="4.15"/>
<circle class="dot" cx="640.6" cy="493.6" r="4.15"/>
<circle class="dot" cx="594.2" cy="486.4" r="4.15"/>
</g>
<text id="title" class="t" y="69" font-size="48" stroke="#000" stroke-width="1.1" stroke-linejoin="round"><tspan x="31.35" textLength="103.68" lengthAdjust="spacingAndGlyphs">Best</tspan> <tspan x="147.89" textLength="32.26" lengthAdjust="spacingAndGlyphs">&amp;</tspan> <tspan x="195.5" textLength="131.21" lengthAdjust="spacingAndGlyphs">Worst</tspan> <tspan x="339.9" textLength="136.51" lengthAdjust="spacingAndGlyphs">Metro</tspan> <tspan x="489.35" textLength="133.77" lengthAdjust="spacingAndGlyphs">Areas</tspan> <tspan x="638.08" textLength="60.36" lengthAdjust="spacingAndGlyphs">for</tspan> <tspan x="712.06" textLength="133.91" lengthAdjust="spacingAndGlyphs">STEM</tspan> <tspan x="859.1" textLength="309.29" lengthAdjust="spacingAndGlyphs">Professionals</tspan></text>
<text x="1002.17" y="599.6" font-size="36.5" font-weight="700" fill="#2b2a29" stroke="#2b2a29" stroke-width="1.9" stroke-linejoin="round" textLength="144.7" lengthAdjust="spacingAndGlyphs">WalletHub</text>
<circle cx="1147.6" cy="575.6" r="1.1" fill="#2b2a29"/>
</svg></body></html>
